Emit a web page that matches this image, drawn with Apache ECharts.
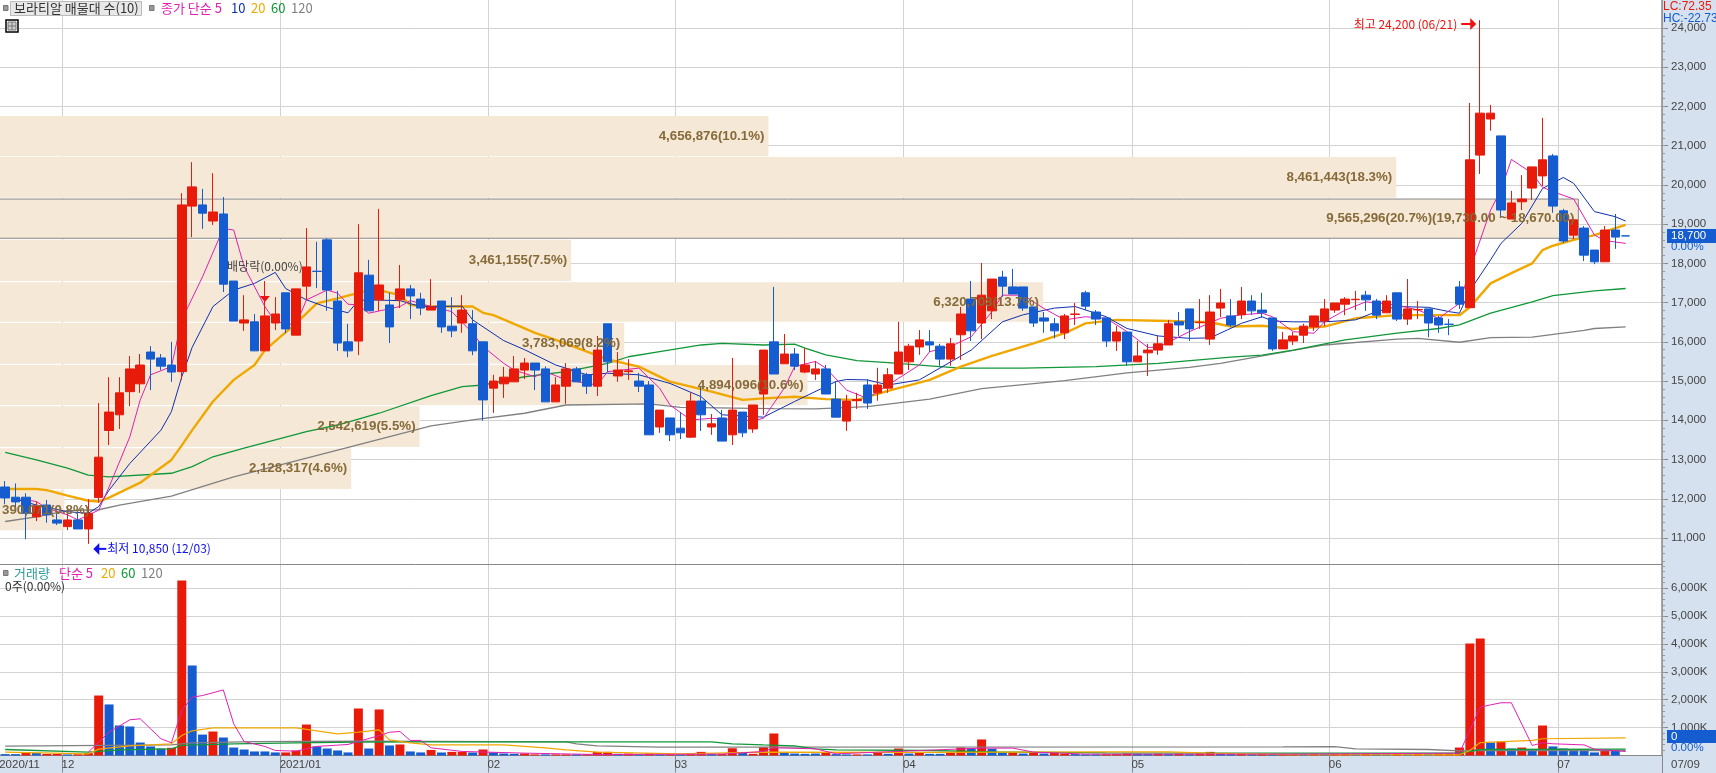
<!DOCTYPE html>
<html><head><meta charset="utf-8"><style>html,body{margin:0;padding:0;background:#fff;overflow:hidden}#c{width:1716px;height:773px}</style>
<script src="https://cdn.jsdelivr.net/npm/echarts@6/dist/echarts.min.js"></script></head><body><div id="c"></div><script>
const slotCount=160;
const tickLabels=[[0,'2020/11'],[6,'12'],[27,'2021/01'],[47,'02'],[65,'03'],[87,'04'],[109,'05'],[128,'06'],[150,'07']];
const opens=[12300,12040,12040,11540,11840,11460,11290,11460,11230,12030,13740,14140,14730,14930,15740,15590,15410,15240,19460,19490,19080,19260,17550,16480,16510,15770,16480,17250,16170,17420,17800,18600,17040,16000,16020,17700,17070,16940,17070,17350,17090,16810,17040,16400,16480,16460,16000,14820,14930,14980,15280,15460,15310,14470,14870,15310,15160,14870,16460,15130,15240,15000,14900,13830,14060,13800,13570,14490,13830,14060,13630,14210,13780,14670,16000,15440,15690,15230,15180,15310,14540,13980,14500,14900,14700,14820,15180,15490,15870,16000,15890,15560,16180,17090,16480,16790,17650,17400,17400,16890,16610,16460,16230,16700,17250,16760,16610,16020,16250,15490,15720,15790,15920,16510,16840,16490,16070,16860,16660,16690,17040,16810,16610,15820,16020,16170,16380,16530,16810,16960,17075,17190,17040,16740,17250,16580,16815,16840,16610,16450,17400,16870,20760,21680,21250,19130,19570,19920,20230,20740,19340,18720,18900,18340,18040,18850,18702];
const closes=[12020,11920,11630,11820,11590,11380,11460,11230,11630,13060,14210,14700,15310,15410,15560,15380,15230,19490,19950,19280,19310,17470,16530,16560,15770,16660,16710,16330,17350,17910,17795,17320,15970,15770,17760,16790,17450,16380,17350,17170,16860,16890,16380,16280,16810,15770,14520,15000,15100,15310,15460,15280,14470,14900,15310,14980,14870,15790,15490,15280,15260,14870,13630,14260,13630,13680,14490,14140,13910,13470,14260,13680,14390,15790,15180,15690,15380,15410,15310,14670,14080,14490,14530,14440,14900,15160,15740,15890,16050,15920,15560,15950,16710,16280,17190,17600,17420,17220,16860,16480,16530,16280,16660,16710,16910,16580,16020,16250,15490,15640,15790,15950,16460,16430,16330,16500,16760,16990,16430,17040,16790,16740,15820,16050,16150,16400,16660,16840,16990,17090,17085,17070,16680,17040,16580,16840,16825,16480,16430,16446,16960,20640,21830,21830,19360,19540,19640,20460,20640,19460,18570,19110,18210,18040,18850,18670,18700];
const lows=[11860,11700,10970,11430,11390,11330,11200,11230,10850,11900,13370,13780,14360,14700,14770,15280,14980,15030,18670,18880,18980,17270,16530,16280,15770,15770,16300,16220,16170,17070,17370,16790,15770,15610,15660,16790,16790,15970,16860,16580,16680,16810,16230,16120,16230,15660,13990,14190,14570,14980,15050,14770,14470,14470,14420,14980,14670,14620,15230,14980,15030,14720,13630,13680,13470,13520,13550,13730,13630,13470,13370,13570,13680,14140,15180,15440,15280,15200,15030,14670,14080,13730,14290,14290,14500,14700,15180,15280,15670,15740,15390,15390,15540,16020,16070,16580,17150,17220,16790,16380,16230,16090,16070,16430,16810,16430,15870,15770,15390,15490,15130,15670,15920,16150,16020,16330,15920,16630,16380,16580,16690,16610,15770,15820,15920,15970,16280,16400,16740,16680,16810,16790,16580,16740,16530,16430,16580,16120,16230,16170,16840,16870,20280,21380,19160,19130,19360,19620,19970,19290,18520,18620,18060,17980,18040,18370,18700];
const highs=[12450,12390,12140,11930,11970,11630,11800,11630,11990,14440,15100,15100,15640,15690,15890,15690,16000,19790,20580,19900,20300,19690,17550,17190,16710,17550,17140,17250,17350,18900,18550,18640,17300,16460,19000,18090,19390,17250,17960,17450,17250,17600,17040,17140,17190,16810,16000,15160,15360,15640,15590,15460,15370,15100,15460,15360,15210,16150,16460,15740,15560,15210,15000,14260,14060,14210,14700,14850,14160,14260,15590,14210,14390,15790,17400,16200,15840,15840,15510,15410,15000,14650,14700,15050,15340,15330,16510,15950,16300,16300,15950,16100,16890,17550,18010,17600,17810,17860,17400,16890,16760,16610,16710,16990,17300,16810,16610,16400,16250,16020,15950,16150,16560,16760,16840,17090,17190,17350,17090,17400,17190,17250,16610,16250,16250,16460,16660,17090,16990,17140,17300,17300,17090,17190,17250,17600,17040,16840,16660,16580,17550,22090,24200,22040,21250,19850,20250,20460,21710,20790,19390,19110,18950,18340,18950,19260,18702];
const volumes=[50,50,100,90,55,60,40,45,85,2150,1830,1075,1040,465,325,250,275,6275,3225,750,860,645,285,215,145,145,110,110,180,1110,325,250,180,110,1685,250,1650,360,395,145,110,200,108,130,130,108,215,108,72,60,72,40,40,40,40,40,40,130,130,60,70,40,70,40,40,40,50,130,50,50,260,100,60,300,790,120,70,60,70,120,50,40,40,40,110,60,250,70,90,60,60,100,290,250,575,240,110,110,70,120,70,90,60,50,40,40,45,50,70,60,50,60,50,60,45,60,130,60,50,55,45,55,50,60,55,50,60,55,60,60,45,60,50,45,50,45,55,50,55,60,285,4015,4195,465,500,250,285,215,1075,325,250,215,215,110,200,180,0];
const volumeUp=[0,0,1,0,1,1,0,1,1,1,0,0,0,0,0,0,1,1,0,0,1,0,0,0,0,0,0,1,1,1,0,0,0,0,1,0,1,0,1,0,0,1,0,1,1,0,1,0,0,0,1,1,0,1,1,0,1,1,1,0,1,0,1,0,1,0,1,1,0,1,1,0,1,1,1,0,0,0,0,1,0,0,1,0,1,0,1,0,1,0,0,1,1,0,1,0,0,1,0,1,0,1,1,0,0,0,1,1,1,0,0,1,0,1,0,1,1,0,0,1,0,1,0,1,1,0,1,0,1,1,0,1,0,0,1,0,1,0,1,1,1,1,1,0,1,0,1,0,1,0,0,0,0,0,1,0,0];
const ma5=[[1,12010],[3,11930],[4,11760],[6,11590],[7,11460],[9,11710],[10,12300],[12,13580],[13,14520],[14,15160],[16,15370],[17,16560],[19,17660],[21,18890],[22,18850],[23,17920],[25,16900],[26,16510],[28,16430],[29,17070],[31,17320],[32,17240],[33,16960],[34,16940],[35,16730],[38,16900],[39,17050],[41,16900],[43,16770],[45,16220],[46,15880],[48,15450],[49,15280],[51,15110],[52,15240],[54,15030],[57,14900],[58,15240],[61,15330],[63,14820],[64,14390],[66,14010],[68,14050],[72,13990],[73,14050],[75,14820],[76,15370],[78,15500],[79,15330],[81,14770],[83,14560],[86,15070],[88,15410],[89,15750],[91,15880],[93,16130],[95,16770],[96,17190],[98,17190],[100,16850],[102,16560],[104,16640],[106,16600],[108,16260],[110,15860],[111,15860],[114,16260],[117,16600],[119,16690],[121,16730],[122,16640],[124,16260],[126,16220],[127,16510],[129,16810],[131,17020],[134,16940],[136,16810],[138,16600],[140,16980],[141,17830],[143,19360],[144,19870],[145,20650],[147,20300],[148,19940],[149,19830],[151,19640],[153,18720],[154,18580],[156,18510]];
const ma10=[[1,11990],[3,11840],[6,11670],[8,11630],[9,11800],[10,12220],[12,12900],[15,13750],[16,14220],[17,15110],[18,15860],[20,16900],[22,17320],[24,17490],[26,17770],[27,17360],[29,17070],[31,16880],[33,16740],[34,17050],[35,17070],[38,17050],[40,16900],[44,16910],[45,16560],[48,16030],[50,15800],[53,15410],[56,15160],[58,15200],[61,15160],[64,14940],[67,14600],[69,14140],[73,14080],[76,14480],[80,14990],[81,15040],[83,15030],[85,14900],[88,15030],[93,15790],[96,16510],[98,16690],[101,16860],[103,16900],[106,16640],[108,16340],[111,16150],[114,16090],[116,16100],[119,16470],[121,16640],[122,16530],[124,16510],[127,16510],[130,16560],[132,16770],[134,16900],[137,16880],[139,16770],[140,16730],[141,17300],[143,18090],[144,18510],[146,19020],[148,19910],[150,20190],[151,20040],[153,19320],[155,19190],[156,19080]];
const ma20=[[0,12250],[3,12250],[4,12220],[6,12080],[8,11950],[9,11930],[10,12030],[13,12410],[16,12990],[17,13360],[18,13750],[20,14480],[22,15030],[24,15410],[25,15790],[28,16470],[30,16980],[32,17110],[33,17180],[35,17320],[36,17320],[38,17190],[39,16940],[41,16900],[45,16900],[46,16740],[47,16680],[50,16345],[51,16230],[53,16050],[56,15750],[58,15550],[61,15370],[64,14985],[66,14860],[68,14730],[71,14520],[73,14560],[76,14600],[79,14540],[82,14520],[85,14750],[89,15030],[92,15370],[95,15640],[99,15960],[102,16220],[104,16470],[107,16560],[112,16530],[116,16500],[118,16390],[121,16410],[124,16330],[127,16390],[130,16600],[134,16680],[137,16680],[140,16680],[141,16880],[143,17490],[145,17750],[147,18000],[148,18340],[149,18450],[151,18600],[153,18720],[155,18900],[156,18980]];
const ma60=[[0,13180],[3,12990],[6,12780],[8,12600],[10,12560],[16,12650],[18,12820],[20,13070],[23,13290],[26,13500],[29,13710],[32,13880],[36,14180],[41,14630],[44,14860],[46,14900],[50,15110],[54,15240],[58,15450],[60,15620],[63,15750],[67,15920],[69,15960],[73,15920],[76,15940],[77,15840],[79,15670],[82,15520],[85,15470],[89,15390],[92,15330],[98,15330],[105,15370],[111,15450],[118,15610],[121,15660],[124,15790],[129,16050],[134,16220],[138,16340],[140,16430],[143,16730],[147,17020],[149,17180],[153,17300],[156,17360]];
const ma120=[[0,11420],[3,11540],[6,11700],[9,11720],[11,11840],[16,12070],[22,12560],[32,13240],[41,13860],[45,14010],[50,14180],[54,14390],[62,14420],[65,14330],[74,14300],[78,14290],[83,14350],[89,14540],[94,14810],[102,15010],[108,15210],[114,15350],[117,15450],[124,15780],[127,15920],[134,16070],[136,16090],[140,15990],[143,16110],[147,16120],[152,16290],[153,16340],[156,16380]];
const volMa5=[[8,120],[9,480],[10,840],[12,1280],[13,1315],[14,955],[15,600],[16,455],[17,1610],[18,2090],[19,2150],[21,2350],[22,1135],[23,500],[25,325],[26,180],[28,155],[30,325],[33,395],[36,715],[37,835],[38,860],[39,540],[40,540],[41,275],[44,145],[50,85],[57,35],[69,50],[73,145],[74,275],[78,240],[80,60],[94,265],[97,265],[99,120],[104,50],[124,50],[140,85],[142,1730],[143,1815],[144,1890],[145,1890],[147,360],[148,455],[149,420],[152,380],[153,225],[156,145]];
const volMa20=[[0,120],[8,60],[9,230],[12,345],[16,420],[17,715],[18,885],[20,990],[28,990],[30,885],[32,775],[34,835],[36,920],[37,560],[39,455],[41,380],[48,380],[52,275],[54,205],[57,120],[65,60],[73,120],[89,110],[106,130],[112,130],[116,85],[124,30],[140,25],[141,180],[142,465],[147,540],[148,600],[156,635]];
const volMa60=[[0,215],[8,120],[11,205],[16,240],[17,360],[22,420],[28,455],[34,480],[41,490],[68,490],[70,420],[73,380],[76,345],[78,240],[80,205],[89,180],[95,130],[106,95],[123,85],[140,85],[142,215],[156,225]];
const volMa120=[[0,335],[16,380],[18,455],[24,500],[34,515],[54,490],[55,420],[57,345],[63,300],[123,310],[128,320],[130,240],[137,215],[140,165],[142,180],[156,180]];
const zoneVolumes=[4656876,8461443,9565296,3461155,6320708,3783069,4894096,2542619,2128317,390071];
const zoneTops=[21760,20710,19640,18600,17520,16480,15410,14360,13290,12220];
const zoneBottoms=[20730,19670,18640,17550,16510,15440,14390,13320,12250,11200];
const zoneLabels=['4,656,876(10.1%)','8,461,443(18.3%)','9,565,296(20.7%)(19,730.00 ~ 18,670.00)','3,461,155(7.5%)','6,320,708(13.7%)','3,783,069(8.2%)','4,894,096(10.6%)','2,542,619(5.5%)','2,128,317(4.6%)','390,071(0.8%)'];
const priceTicks=[11000,12000,13000,14000,15000,16000,17000,18000,19000,20000,21000,22000,23000,24000];
const volumeTicks=[1000,2000,3000,4000,5000,6000];

const RED='#E81A0A',BLUE='#145CCF',GRID='#D3D3D3',EDGE='#888888',BAND='#F5E8D7',TXT='#444';
const KR='"Noto Sans CJK KR","Noto Sans",sans-serif';
const NUM='"Liberation Sans",sans-serif';
const labelAt=Object.fromEntries(tickLabels);
const monthEdges=new Set(tickLabels.map(t=>t[0]).filter(i=>i>0));
const categories=Array.from({length:slotCount},(_,i)=>labelAt[i]||'');
const priceMin=10337,priceMax=24714,volMax=6846,zoneAxisMax=10072000;
const minorPrice=[];for(let v=10400;v<=24600;v+=200)minorPrice.push(v);
const minorVol=[];for(let v=200;v<=6800;v+=200)minorVol.push(v);
const candles=opens.map((o,i)=>[o,closes[i],lows[i],highs[i]]);
const zoneData=zoneVolumes.map((v,i)=>[v,zoneTops[i],zoneBottoms[i],i]);
const mkLine=(name,data,color,w,xi,yi,z)=>({name,type:'line',data,xAxisIndex:xi,yAxisIndex:yi,showSymbol:false,symbol:'none',silent:true,z,
  lineStyle:{color,width:w},animation:false});
const volBar=volumes.map((v,i)=>({value:v,itemStyle:{color:volumeUp[i]?RED:BLUE}}));
const annotations=[
 {i:142,p:24200,kind:'high',text:'최고 24,200 (06/21)'},
 {i:8,p:10850,kind:'low',text:'최저 10,850 (12/03)'},
 {i:25,p:17550,kind:'div',text:'배당락(0.00%)'}];

const graphics=[
 {type:'rect',z:-5,shape:{x:1662,y:0,width:54,height:773},style:{fill:'#D6E1EF'}},
 {type:'rect',z:-5,shape:{x:0,y:756,width:1662,height:17},style:{fill:'#D6E1EF'}},
 {type:'rect',z:50,shape:{x:1663,y:0,width:53,height:23},style:{fill:'#D6E1EF'}},
 {type:'rect',z:50,shape:{x:1662,y:756,width:1,height:17},style:{fill:EDGE}},
 {type:'rect',z:60,shape:{x:3.5,y:5.5,width:4.5,height:5},style:{fill:'#999',stroke:'#777',lineWidth:1}},
 {type:'rect',z:60,shape:{x:10.5,y:1.5,width:131,height:14},style:{fill:'#E8E8E8',stroke:'#BBB',lineWidth:1}},
 {type:'rect',z:60,shape:{x:149.5,y:5.5,width:4.5,height:5},style:{fill:'#999',stroke:'#777',lineWidth:1}},
 {type:'rect',z:60,shape:{x:6,y:20,width:12,height:12},style:{fill:'#fff',stroke:'#000',lineWidth:1.5}},
 {type:'rect',z:61,shape:{x:8,y:22,width:8,height:8},style:{fill:'#ccc',stroke:'#777',lineWidth:1}},
 {type:'line',z:62,shape:{x1:8,y1:26,x2:16,y2:26},style:{stroke:'#777',lineWidth:1}},
 {type:'line',z:62,shape:{x1:12,y1:22,x2:12,y2:30},style:{stroke:'#777',lineWidth:1}},
 {type:'rect',z:60,shape:{x:3.5,y:570.5,width:4.5,height:5},style:{fill:'#999',stroke:'#777',lineWidth:1}},
 {type:'rect',z:60,shape:{x:1667,y:229,width:49,height:14},style:{fill:BLUE}},
 {type:'rect',z:60,shape:{x:1667,y:730,width:49,height:13},style:{fill:BLUE}}
];
const tx=(text,x,y,fill,font,extra)=>graphics.push({type:'text',z:70,x,y,style:Object.assign({text,fill,font,textVerticalAlign:'middle',textBaseline:'middle'},extra||{})});
const F12='12px '+KR,F13='13px '+KR,SM='11.5px '+NUM,LC='12px '+NUM;
tx('보라티알 매물대 수(10)',14,8.5,'#333',F13);
tx('종가 단순 5',161,8.5,'#E020B0',F13);
tx('10',231,8.5,'#1030B0',F13);
tx('20',251,8.5,'#F0A800',F13);
tx('60',271,8.5,'#109838',F13);
tx('120',291,8.5,'#808080',F13);
tx('거래량',14,573,'#2E9C9C',F13);
tx('단순 5',59,573,'#E020B0',F13);
tx('20',101,573,'#F0A800',F13);
tx('60',121,573,'#109838',F13);
tx('120',141,573,'#808080',F13);
tx('0주(0.00%)',5,586.5,'#333',F12);
tx('LC:72.35',1663,7,RED,LC);
tx('HC:-22.73',1663,19,BLUE,LC);
tx('18,700',1671,236,'#fff',SM);
tx('0.00%',1671,247,BLUE,SM);
tx('0',1671,736.5,'#fff',SM);
tx('0.00%',1671,748,BLUE,SM);
tx('07/09',1671,764.5,TXT,SM);

const option={
 animation:false,backgroundColor:'#fff',graphic:{elements:graphics},
 grid:[{left:0,top:0,width:1662,height:564,outerBoundsMode:'none'},{left:0,top:564.5,width:1662,height:191,outerBoundsMode:'none'}],
 xAxis:[
  {type:'category',gridIndex:0,data:categories,boundaryGap:true,axisLabel:{show:false},axisTick:{show:false},
   axisLine:{show:true,onZero:false,lineStyle:{color:EDGE,width:1}},
   splitLine:{show:true,interval:i=>monthEdges.has(i),lineStyle:{color:GRID,width:1}}},
  {type:'value',gridIndex:0,min:0,max:zoneAxisMax,show:false},
  {type:'category',gridIndex:1,data:categories,boundaryGap:true,
   axisLabel:{show:true,interval:i=>!!labelAt[i],align:'left',padding:[0,0,0,-6],margin:3,color:TXT,fontSize:11.5,fontFamily:NUM,hideOverlap:false},
   axisTick:{show:true,interval:i=>monthEdges.has(i),length:17,lineStyle:{color:EDGE,width:1}},
   axisLine:{show:true,onZero:false,lineStyle:{color:EDGE,width:1}},
   splitLine:{show:true,interval:i=>monthEdges.has(i),lineStyle:{color:GRID,width:1}}}
 ],
 yAxis:[
  {type:'value',gridIndex:0,position:'right',min:priceMin,max:priceMax,scale:true,
   axisLine:{show:true,onZero:false,lineStyle:{color:EDGE,width:1.5}},
   axisTick:{show:true,customValues:priceTicks,length:6,lineStyle:{color:EDGE}},
   axisLabel:{show:true,customValues:priceTicks,margin:9,color:TXT,fontSize:11.5,fontFamily:NUM,formatter:v=>v.toLocaleString('en-US')},
   splitLine:{show:true,lineStyle:{color:GRID,width:1}}},
  {type:'value',gridIndex:0,position:'left',offset:-1662,min:priceMin,max:priceMax,scale:true,
   axisLine:{show:false},axisLabel:{show:false},splitLine:{show:false},
   axisTick:{show:true,inside:true,customValues:minorPrice,length:3,lineStyle:{color:'#999'}}},
  {type:'value',gridIndex:1,position:'right',min:0,max:volMax,
   axisLine:{show:true,onZero:false,lineStyle:{color:EDGE,width:1.5}},
   axisTick:{show:true,customValues:volumeTicks,length:6,lineStyle:{color:EDGE}},
   axisLabel:{show:true,customValues:volumeTicks,margin:9,color:TXT,fontSize:11.5,fontFamily:NUM,formatter:v=>v.toLocaleString('en-US')+'K'},
   splitLine:{show:true,lineStyle:{color:GRID,width:1}}},
  {type:'value',gridIndex:1,position:'left',offset:-1662,min:0,max:volMax,
   axisLine:{show:false},axisLabel:{show:false},splitLine:{show:false},
   axisTick:{show:true,inside:true,customValues:minorVol,length:3,lineStyle:{color:'#999'}}}
 ],
 series:[
  {name:'zones',type:'custom',xAxisIndex:1,yAxisIndex:0,z:1,silent:true,data:zoneData,encode:{x:0,y:[1,2]},clip:false,
   renderItem:(p,api)=>{
     const a=api.coord([0,api.value(1)]),b=api.coord([api.value(0),api.value(2)]);
     const hi=api.value(3)===2,ox=hi?-2:0;
     return {type:'rect',shape:{x:a[0]+ox,y:a[1],width:b[0]-a[0]-ox,height:b[1]-a[1]},
       style:{fill:BAND,stroke:hi?EDGE:null,lineWidth:hi?1:0}};
   }},
  mkLine('ma120',ma120,'#808080',1.3,0,0,2),
  mkLine('ma60',ma60,'#109838',1.3,0,0,2),
  mkLine('ma20',ma20,'#F0A800',2.4,0,0,2),
  mkLine('ma10',ma10,'#1030B0',1,0,0,2),
  mkLine('ma5',ma5,'#E020B0',1,0,0,2),
  {name:'price',type:'candlestick',xAxisIndex:0,yAxisIndex:0,z:3,data:candles,barWidth:9,silent:true,
   itemStyle:{color:RED,color0:BLUE,borderColor:RED,borderColor0:BLUE,borderWidth:1}},
  {name:'zoneText',type:'custom',xAxisIndex:1,yAxisIndex:0,z:6,silent:true,data:zoneData,encode:{x:0,y:[1,2]},clip:false,
   renderItem:(p,api)=>{
     const i=api.value(3);
     const b=api.coord([api.value(0),(api.value(1)+api.value(2))/2]);
     const small=api.value(0)<1000000;
     return {type:'text',x:small?2:b[0]-4,y:b[1],style:{text:zoneLabels[i],fill:'#866A38',
       font:'bold 13.3px "Liberation Sans",sans-serif',textAlign:small?'left':'right',textVerticalAlign:'middle',align:small?'left':'right',verticalAlign:'middle'}};
   }},
  {name:'notes',type:'custom',xAxisIndex:0,yAxisIndex:0,z:7,silent:true,clip:false,data:annotations.map((a,i)=>[a.i,a.p,i]),
   renderItem:(p,api)=>{
     const a=annotations[api.value(2)],c=api.coord([api.value(0),api.value(1)]);
     const font='12px '+KR;
     if(a.kind==='high'){const y=24,xr=c[0]-4;return {type:'group',children:[
       {type:'text',x:xr-19,y,style:{text:a.text,fill:'#F01010',font,align:'right',verticalAlign:'middle'}},
       {type:'line',shape:{x1:xr-15,y1:y,x2:xr-5,y2:y},style:{stroke:'#F01010',lineWidth:2}},
       {type:'polygon',shape:{points:[[xr-6,y-6],[xr,y],[xr-6,y+6]]},style:{fill:'#F01010'}}]};}
     if(a.kind==='low'){const y=c[1]+5,xl=c[0]+5;return {type:'group',children:[
       {type:'text',x:xl+14,y,style:{text:a.text,fill:'#1010F0',font,align:'left',verticalAlign:'middle'}},
       {type:'line',shape:{x1:xl+5,y1:y,x2:xl+13,y2:y},style:{stroke:'#1010F0',lineWidth:2}},
       {type:'polygon',shape:{points:[[xl+6,y-6],[xl,y],[xl+6,y+6]]},style:{fill:'#1010F0'}}]};}
     return {type:'group',children:[
       {type:'text',x:c[0],y:c[1]-15,style:{text:a.text,fill:'#444',font,align:'center',verticalAlign:'middle'}},
       {type:'polygon',shape:{points:[[c[0]-5,c[1]+15],[c[0]+5,c[1]+15],[c[0],c[1]+21]]},style:{fill:'#F01010'}}]};
   }},
  {name:'volume',type:'bar',xAxisIndex:2,yAxisIndex:2,z:3,data:volBar,barWidth:9,silent:true},
  mkLine('vol120',volMa120,'#808080',1.3,2,2,4),
  mkLine('vol60',volMa60,'#109838',1.3,2,2,4),
  mkLine('vol20',volMa20,'#F0A800',1.2,2,2,4),
  mkLine('vol5',volMa5,'#E020B0',1,2,2,4)
 ]
};
echarts.init(document.getElementById('c'),null,{renderer:'canvas'}).setOption(option);
</script></body></html>
